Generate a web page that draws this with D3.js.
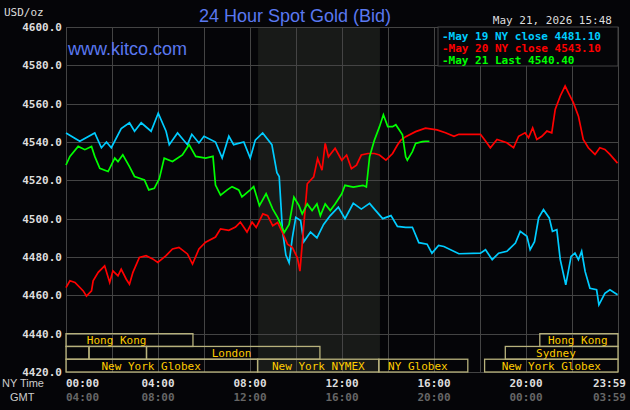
<!DOCTYPE html>
<html lang="en">
<head>
  <meta charset="UTF-8">
  <title>24 Hour Spot Gold</title>
  <script src="https://d3js.org/d3.v7.min.js"></script>
  <style>
    body { margin: 0; background: #050508; }
    text { font-family: "DejaVu Sans Mono", monospace; font-size: 11px; }
  </style>
</head>
<body>
  <svg width="630" height="410"></svg>

  <script>
    // hours since 00:00 NY time, and bid prices
    const may19Hours = [0,0.6,1.25,1.54,1.76,1.97,2.4,2.76,2.98,3.27,3.7,4.01,4.35,4.49,4.85,5.28,5.47,5.78,6.0,6.5,6.79,7.08,7.29,7.73,8.01,8.23,8.55,8.95,9.17,9.27,9.41,9.56,9.7,9.84,9.99,10.2,10.34,10.63,10.91,11.2,11.49,11.84,12.13,12.49,12.84,13.2,13.41,13.77,14.13,14.41,14.77,15.06,15.34,15.7,15.91,16.2,16.43,17.08,18.02,18.24,18.53,18.81,19.17,19.54,19.75,20.04,20.18,20.37,20.55,20.76,21.01,21.15,21.34,21.49,21.73,21.96,22.13,22.28,22.42,22.57,22.78,23.07,23.17,23.43,23.65,23.98];
    const may19Values = [4544.7,4540.4,4544.7,4537,4540,4537,4547,4550,4545.6,4550,4545.6,4555,4545.6,4538.6,4544.7,4538.6,4544,4539.5,4543,4540,4531.6,4543,4538.6,4540,4531.6,4541,4544.7,4538.6,4524,4522,4494,4481,4477,4490,4500.7,4499,4488,4493,4490,4497,4501.6,4506,4500,4508,4505,4508,4505,4500,4501.6,4496,4495.5,4495.5,4487.5,4486.7,4482,4486,4485.5,4481.7,4482,4483.8,4478.6,4482,4483,4487.3,4493.4,4490.8,4483.8,4488,4500.4,4504.7,4500.4,4493.4,4494.3,4478.6,4465.5,4480.3,4482,4478.6,4483,4472.5,4463.7,4462.9,4455,4461,4462.9,4460.3];

    const may20Hours = [0,0.17,0.39,0.75,0.89,1.11,1.18,1.4,1.68,1.9,2.04,2.26,2.4,2.62,2.76,2.91,3.19,3.48,3.77,3.99,4.35,4.63,4.91,5.28,5.5,5.78,6.07,6.5,6.72,7.08,7.37,7.58,7.87,8.09,8.27,8.56,8.77,8.99,9.2,9.41,9.63,9.84,10.06,10.17,10.27,10.49,10.77,10.94,11.13,11.27,11.41,11.7,11.99,12.2,12.41,12.63,12.84,13.13,13.41,13.63,13.91,14.2,14.41,14.56,14.77,15.2,15.63,16.13,16.5,16.87,17.08,18.02,18.24,18.45,18.74,19.17,19.46,19.68,19.96,20.11,20.29,20.47,20.69,20.91,21.12,21.27,21.49,21.7,21.84,22.06,22.28,22.49,22.71,23.0,23.21,23.43,23.65,23.98];
    const may20Values = [4464,4467.6,4466.7,4462.3,4459.6,4462.3,4467.6,4472,4475.4,4466.7,4472.8,4470.2,4473.7,4468.4,4465.8,4472,4479.8,4480.7,4479,4477.2,4480.7,4484.2,4485,4481.6,4476.3,4484.2,4487.7,4490.4,4494.7,4493.9,4495.6,4498.2,4493,4498.2,4495.4,4502.5,4501.6,4496.3,4498,4492.8,4486.7,4485,4479.6,4472.6,4486.7,4518.2,4521.8,4531.4,4525.3,4539.3,4532.3,4536.7,4530.5,4533.2,4526.1,4527.9,4533.2,4534,4534,4533.2,4530.5,4534,4538.4,4541,4542.8,4545.4,4547.2,4546.3,4544.8,4543,4544,4544,4540.5,4537,4541.3,4539.6,4537,4543,4544.8,4542.2,4547.4,4541.3,4543,4545.7,4544.8,4557,4564,4569.2,4565.7,4560.5,4553.5,4541.3,4537,4533.5,4537,4536.1,4533.5,4529];

    const may21Hours = [0,0.17,0.53,0.82,1.11,1.25,1.47,1.83,2.12,2.26,2.47,2.76,2.98,3.41,3.6,3.84,4.06,4.27,4.63,5.06,5.35,5.64,6.07,6.39,6.5,6.72,7.01,7.22,7.51,7.65,8.01,8.16,8.41,8.7,8.99,9.2,9.49,9.7,9.91,10.13,10.27,10.49,10.7,10.91,11.06,11.27,11.49,11.7,11.99,12.13,12.49,12.91,13.06,13.2,13.41,13.63,13.8,13.99,14.2,14.34,14.63,14.77,14.84,15.06,15.2,15.49,15.63,15.8];
    const may21Values = [4528,4532.5,4537.7,4536,4537.7,4532.5,4526.3,4524.6,4531.6,4529.8,4533.3,4527.2,4522,4520.2,4515,4515.8,4521,4531.6,4529.8,4533.3,4538.6,4532.5,4531.6,4532.5,4517.5,4512.3,4515,4516.7,4515,4511.4,4515,4516.7,4506.8,4513,4505,4500.7,4492.8,4497,4511.2,4506.8,4502.5,4507.7,4504.2,4507.7,4501.6,4507.7,4504.2,4507.7,4513,4517.4,4516.5,4517.4,4516.5,4532.3,4541,4548,4554.2,4548,4548,4549,4543.7,4532.3,4530.5,4535,4539.3,4540.2,4540.4,4540.4];

    const legendLabels = ["May 19 NY close 4481.10", "May 20 NY close 4543.10", "May 21 Last 4540.40"];
    const nyTicks = ["00:00","04:00","08:00","12:00","16:00","20:00","23:59"];
    const gmtTicks = ["04:00","08:00","12:00","16:00","20:00","00:00","03:59"];
    const tickHours = [0,4,8,12,16,20,24];

    // market sessions: [row, start, end, label, label hour]
    const sessions = [
      [0, 0, 5.52, "Hong Kong", 2.2],
      [0, 20.6, 24, "Hong Kong", 22.25],
      [1, 0, 1, "", 0],
      [1, 1, 3.5, "", 0],
      [1, 3.5, 11.04, "London", 7.2],
      [1, 19.1, 24, "Sydney", 21.3],
      [2, 0, 8.33, "New York Globex", 3.7],
      [2, 8.33, 13.6, "New York NYMEX", 10.97],
      [2, 13.6, 17.47, "NY Globex", 15.3],
      [2, 18.2, 24, "New York Globex", 21.1]
    ];

    const svg = d3.select("svg");
    const x = d3.scaleLinear([0, 24], [66, 618]);
    const y = d3.scaleLinear([4420, 4600], [372, 27]);

    svg.append("rect").attr("width", 630).attr("height", 410).attr("fill", "#050508");

    // NYMEX shading
    svg.append("rect")
      .attr("x", x(8.35)).attr("y", y(4600))
      .attr("width", x(13.65) - x(8.35)).attr("height", y(4420) - y(4600))
      .attr("fill", "#181a18");

    // grid
    const grid = svg.append("g").attr("stroke", "#444").attr("stroke-width", 1);
    d3.range(0, 25, 2).forEach(h => grid.append("line")
      .attr("x1", Math.round(x(h)) + 0.5).attr("x2", Math.round(x(h)) + 0.5)
      .attr("y1", y(4600)).attr("y2", y(4420)));
    d3.range(4420, 4601, 20).forEach(v => grid.append("line")
      .attr("x1", x(0)).attr("x2", x(24))
      .attr("y1", Math.round(y(v)) + 0.5).attr("y2", Math.round(y(v)) + 0.5));

    // y labels
    svg.append("g").selectAll("text")
      .data(d3.range(4420, 4601, 20))
      .enter().append("text")
      .attr("x", 62).attr("y", d => y(d) + 4)
      .attr("text-anchor", "end").attr("fill", "#ddd").attr("font-weight", "bold")
      .text(d => d.toFixed(1));

    // sessions
    const rowH = (y(4420) - y(4440)) / 3;
    const sess = svg.append("g");
    sessions.forEach(s => {
      const top = y(4440) + s[0] * rowH;
      sess.append("rect")
        .attr("x", x(s[1])).attr("y", top)
        .attr("width", x(s[2]) - x(s[1])).attr("height", rowH)
        .attr("fill", "none").attr("stroke", "#b8b27c").attr("stroke-width", 1.3);
      if (s[3]) sess.append("text")
        .attr("x", x(s[4])).attr("y", top + rowH - 2.5)
        .attr("text-anchor", "middle").attr("fill", "#ffcc00")
        .text(s[3]);
    });

    // lines
    const line = d3.line().x(d => x(d[0])).y(d => y(d[1]));
    const series = [
      [may19Hours, may19Values, "#00ccff"],
      [may20Hours, may20Values, "#ff0000"],
      [may21Hours, may21Values, "#00ff00"]
    ];
    series.forEach(s => svg.append("path")
      .datum(d3.zip(s[0], s[1]))
      .attr("fill", "none").attr("stroke", s[2]).attr("stroke-width", 1.7)
      .attr("d", line));

    // legend
    svg.append("rect").attr("x", 438).attr("y", 27).attr("width", 180).attr("height", 39)
      .attr("fill", "#050508").attr("stroke", "#444");
    legendLabels.forEach((t, i) => svg.append("text")
      .attr("x", 442).attr("y", 40 + i * 12)
      .attr("fill", series[i][2]).attr("font-weight", "bold")
      .text("-" + t));

    // titles
    svg.append("text").attr("x", 4).attr("y", 16).attr("fill", "#ddd").text("USD/oz");
    svg.append("text").attr("x", 295).attr("y", 22).attr("text-anchor", "middle")
      .attr("fill", "#5a78f0").style("font-family", "Liberation Sans, Arial, sans-serif")
      .style("font-size", "18px").text("24 Hour Spot Gold (Bid)");
    svg.append("text").attr("x", 612).attr("y", 24).attr("text-anchor", "end")
      .attr("fill", "#ddd").text("May 21, 2026 15:48");
    svg.append("text").attr("x", 68).attr("y", 55)
      .attr("fill", "#5a78f0").style("font-family", "Liberation Sans, Arial, sans-serif")
      .style("font-size", "18px").text("www.kitco.com");

    // x labels
    svg.append("text").attr("x", 2).attr("y", 387).attr("fill", "#ccc")
      .style("font-family", "Liberation Sans Narrow, Arial, sans-serif").text("NY Time");
    svg.append("text").attr("x", 10).attr("y", 401).attr("fill", "#ccc")
      .style("font-family", "Liberation Sans Narrow, Arial, sans-serif").text("GMT");
    tickHours.forEach((h, i) => {
      const anchor = i === 0 ? "start" : (i === tickHours.length - 1 ? "end" : "middle");
      const tx = i === tickHours.length - 1 ? 626 : x(h);
      svg.append("text").attr("x", tx).attr("y", 387).attr("text-anchor", anchor)
        .attr("fill", "#ddd").attr("font-weight", "bold").text(nyTicks[i]);
      svg.append("text").attr("x", tx).attr("y", 401).attr("text-anchor", anchor)
        .attr("fill", "#666").attr("font-weight", "bold").text(gmtTicks[i]);
    });
  </script>
</body>
</html>
